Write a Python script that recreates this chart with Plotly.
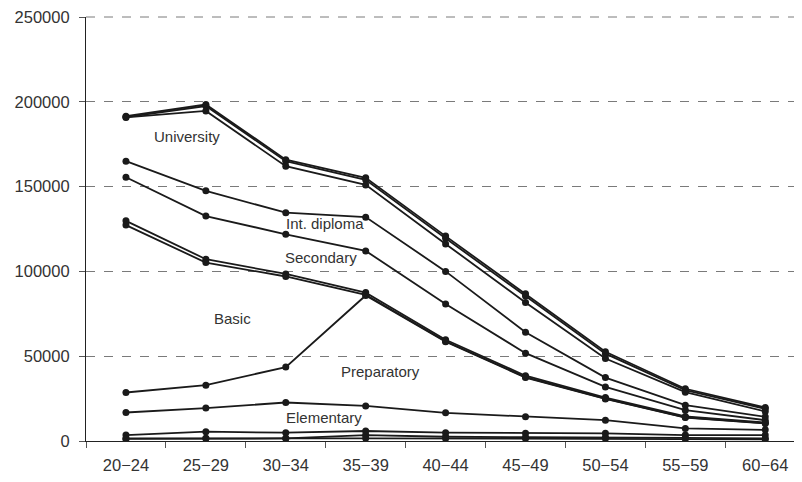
import plotly.graph_objects as go

age_groups = ["20−24", "25−29", "30−34", "35−39", "40−44", "45−49", "50−54", "55−59", "60−64"]

university_a = [191500, 198400, 165900, 155200, 120800, 86800, 52600, 30800, 19700]
university_b = [191000, 197500, 165000, 154000, 119500, 85500, 51500, 30000, 19000]
university_c = [190800, 194600, 162000, 151000, 116200, 81700, 48600, 28800, 17400]
int_diploma = [165000, 147500, 134600, 132000, 100000, 64100, 37400, 21100, 14300]
secondary = [155500, 132600, 121900, 112100, 80800, 51800, 31900, 18200, 12300]
basic_a = [129800, 107200, 98500, 87500, 59700, 38500, 25600, 14500, 10900]
basic_b = [127300, 105200, 97000, 86200, 58800, 37700, 25000, 14000, 10500]
preparatory = [28600, 32900, 43600, 85800, 58500, 37400, 24800, 13800, 10300]
elementary = [16800, 19400, 22700, 20700, 16600, 14300, 12300, 7400, 6600]
bottom_a = [3500, 5500, 4900, 5900, 4900, 4500, 4500, 3500, 3500]
bottom_b = [1500, 1600, 1600, 3500, 2500, 2200, 2200, 1800, 1600]
bottom_c = [1200, 1500, 1500, 1600, 1500, 1500, 1500, 1300, 1000]

series = [university_a, university_b, university_c, int_diploma, secondary,
          basic_a, basic_b, preparatory, elementary, bottom_a, bottom_b, bottom_c]

labels = ["University", "Int. diploma", "Secondary", "Basic", "Preparatory", "Elementary"]
label_x = [0.76, 2.49, 2.44, 1.33, 3.19, 2.48]
label_y = [179600, 128500, 108000, 72200, 41100, 14100]

y_ticks = [0, 50000, 100000, 150000, 200000, 250000]
y_max = 250000

fig = go.Figure()
for s in series:
    fig.add_trace(go.Scatter(
        x=age_groups, y=s, mode="lines+markers",
        line=dict(color="#1a1a1a", width=1.8),
        marker=dict(color="#1a1a1a", size=7),
        showlegend=False, hoverinfo="skip"))

for t, xx, yy in zip(labels, label_x, label_y):
    fig.add_annotation(x=xx, y=yy, text=t, showarrow=False,
                       font=dict(family="Liberation Sans", size=15, color="#333333"),
                       xanchor="center", yanchor="middle")

# top gridline (plotly omits the grid line on the plot-area edge)
fig.add_shape(type="line", xref="paper", yref="paper", x0=0, x1=1, y0=1, y1=1,
              line=dict(color="#7a7a7a", width=1, dash="dash"))

fig.update_layout(
    width=794, height=474,
    margin=dict(l=78, r=0, t=7, b=41),
    plot_bgcolor="white", paper_bgcolor="white",
    font=dict(family="Liberation Sans", size=16.5, color="#333333"),
    xaxis=dict(
        type="category", range=[-0.5, 8.46],
        showline=True, linecolor="#222222", linewidth=1.2,
        ticks="outside", tickson="boundaries", ticklen=6, tickcolor="#555555",
        ticklabelstandoff=9,
        showgrid=False, tickfont=dict(size=16.5, color="#333333"),
    ),
    yaxis=dict(
        range=[0, y_max], tickvals=y_ticks,
        tickformat="d", ticklabeloverflow="allow",
        showline=True, linecolor="#222222", linewidth=1.2,
        ticks="outside", ticklen=6, tickcolor="#555555",
        ticklabelstandoff=6,
        showgrid=True, gridcolor="#7a7a7a", griddash="dash", gridwidth=1,
        zeroline=False, tickfont=dict(size=16.5, color="#333333"),
    ),
)

fig.write_html("out.html")
